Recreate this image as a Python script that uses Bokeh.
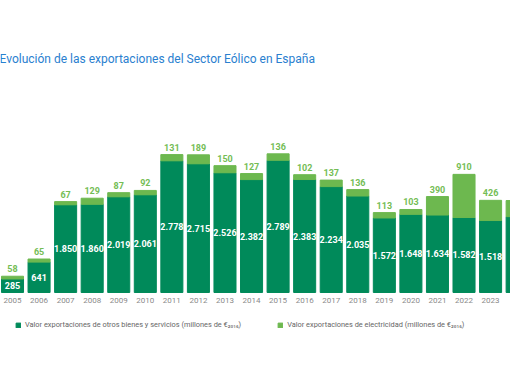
from bokeh.plotting import figure
from bokeh.models import ColumnDataSource, Label, Legend, LegendItem, Range1d
from bokeh.core.properties import value
from bokeh.embed import file_html
from bokeh.resources import INLINE

years = ["2005", "2006", "2007", "2008", "2009", "2010", "2011", "2012", "2013", "2014",
         "2015", "2016", "2017", "2018", "2019", "2020", "2021", "2022", "2023", "2024"]
otros = [285, 641, 1850, 1860, 2019, 2061, 2778, 2715, 2526, 2382,
         2789, 2383, 2234, 2035, 1572, 1648, 1634, 1582, 1518, 1600]
electricidad = [58, 65, 67, 129, 87, 92, 131, 189, 150, 127,
                136, 102, 137, 136, 113, 103, 390, 910, 426, 340]

title_text = "Evolución de las exportaciones del Sector Eólico en España"
legend_otros = "Valor exportaciones de otros bienes y servicios (millones de €₂₀₁₆)"
legend_elec = "Valor exportaciones de electricidad (millones de €₂₀₁₆)"

DARK = "#008a5a"
LIGHT = "#6db84f"
LIGHT_TXT = "#74bd55"
FONT = "Roboto"

def fmt(v):
    return f"{v:,}".replace(",", ".")

n = len(years)
idx = list(range(n))
totals = [a + b for a, b in zip(otros, electricidad)]
src = ColumnDataSource(dict(x=idx, otros=otros, total=totals))
vis = n - 1  # last year is cut by the frame edge
lab_src = ColumnDataSource(dict(
    x=idx[:vis], mid=[a / 2 for a in otros[:vis]], total=totals[:vis],
    lab_otros=[fmt(v) for v in otros[:vis]],
    lab_elec=[fmt(v) for v in electricidad[:vis]],
    year=years[:vis],
))

W, H = 510, 382
p = figure(width=W, height=H, output_backend="svg", toolbar_location=None,
           min_border=0, min_border_left=0, min_border_right=0,
           min_border_top=0, min_border_bottom=0)
p.x_range = Range1d(-0.452, 18.75)
p.y_range = Range1d(-1899, 6160)
p.axis.visible = False
p.grid.visible = False
p.outline_line_color = None
p.background_fill_color = "white"
p.border_fill_color = "white"

bw = 0.83
r1 = p.vbar(x="x", top="otros", bottom=0, width=bw, color=DARK, source=src)
r2 = p.vbar(x="x", top="total", bottom="otros", width=bw, color=LIGHT, source=src)

p.text(x="x", y="mid", text="lab_otros", source=lab_src, text_align="center",
       text_baseline="middle", text_color="white", text_font_size="9px",
       text_font_style="bold", text_font=value(FONT))
p.text(x="x", y="total", text="lab_elec", source=lab_src, text_align="center",
       text_baseline="bottom", text_color=LIGHT_TXT, text_font_size="9px",
       text_font_style="bold", text_font=value(FONT), y_offset=-4)
p.text(x="x", y=0, text="year", source=lab_src, text_align="center",
       text_baseline="top", text_color="#8a8a8a", text_font_size="8px",
       text_font=value(FONT), y_offset=6)

p.add_layout(Label(x=-1, y=H - 58, x_units="screen", y_units="screen",
                   text=title_text, text_color="#2a80cf", text_font_size="12px",
                   text_font=FONT, text_baseline="middle"))

legend = Legend(items=[LegendItem(label=legend_otros, renderers=[r1]),
                       LegendItem(label=legend_elec, renderers=[r2])],
                orientation="horizontal", location=(15, 53),
                label_text_font_size="7.4px", label_text_color="#666666",
                label_text_font=FONT, glyph_width=6, glyph_height=6,
                label_height=8, label_standoff=4, spacing=36, padding=0,
                margin=0, border_line_color=None, background_fill_alpha=0)
p.add_layout(legend)

open("out.html", "w").write(file_html(p, INLINE))
